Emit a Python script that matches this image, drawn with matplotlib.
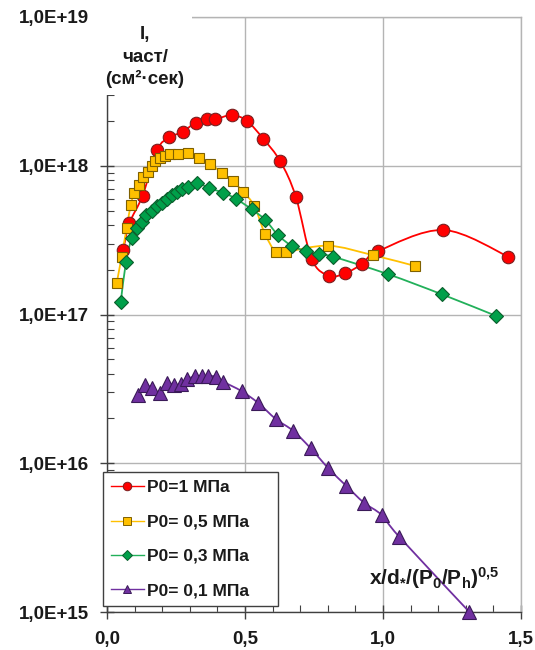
import numpy as np
import matplotlib
matplotlib.use("Agg")
import matplotlib.pyplot as plt
from matplotlib.path import Path
from matplotlib.patches import PathPatch, Rectangle
from matplotlib.lines import Line2D
from matplotlib.ticker import FixedLocator, LogLocator, NullFormatter

plt.rcParams['font.family'] = ['Liberation Sans', 'DejaVu Sans']
plt.rcParams['font.weight'] = 'bold'

# ---------------- data ----------------
x_p1 = [0.059, 0.081, 0.129, 0.182, 0.226, 0.274, 0.321, 0.364, 0.391, 0.453, 0.507,
        0.566, 0.628, 0.684, 0.742, 0.806, 0.862, 0.925, 0.983, 1.219, 1.454]
y_p1 = [2.72e17, 4.1e17, 6.3e17, 1.28e18, 1.55e18, 1.69e18, 1.95e18, 2.05e18, 2.05e18,
        2.19e18, 2.0e18, 1.52e18, 1.07e18, 6.2e17, 2.35e17, 1.82e17, 1.89e17, 2.19e17,
        2.67e17, 3.7e17, 2.45e17]

x_p05 = [0.035, 0.053, 0.071, 0.086, 0.099, 0.117, 0.132, 0.147, 0.162, 0.174, 0.192,
         0.210, 0.228, 0.258, 0.295, 0.333, 0.373, 0.416, 0.455, 0.492, 0.533, 0.572,
         0.611, 0.649, 0.802, 0.962, 1.116]
y_p05 = [1.62e17, 2.45e17, 3.8e17, 5.45e17, 6.6e17, 7.4e17, 8.4e17, 9.1e17, 9.9e17,
         1.08e18, 1.12e18, 1.16e18, 1.2e18, 1.2e18, 1.21e18, 1.13e18, 1.03e18, 8.98e17,
         7.94e17, 6.7e17, 5.4e17, 3.5e17, 2.64e17, 2.64e17, 2.9e17, 2.51e17, 2.12e17]

x_p03 = [0.050, 0.069, 0.089, 0.107, 0.125, 0.143, 0.162, 0.180, 0.198, 0.216, 0.234,
         0.252, 0.270, 0.295, 0.325, 0.371, 0.421, 0.467, 0.524, 0.572, 0.621, 0.669,
         0.720, 0.769, 0.818, 1.017, 1.212, 1.409]
y_p03 = [1.22e17, 2.27e17, 3.25e17, 3.8e17, 4.2e17, 4.7e17, 5.0e17, 5.35e17, 5.65e17,
         6.0e17, 6.4e17, 6.7e17, 6.95e17, 7.2e17, 7.7e17, 7.05e17, 6.6e17, 6.0e17,
         5.1e17, 4.35e17, 3.4e17, 2.9e17, 2.67e17, 2.54e17, 2.45e17, 1.87e17, 1.37e17,
         9.8e16]

x_p01 = [0.114, 0.138, 0.162, 0.192, 0.216, 0.243, 0.267, 0.291, 0.319, 0.343, 0.367,
         0.395, 0.422, 0.488, 0.548, 0.612, 0.675, 0.738, 0.802, 0.866, 0.931, 0.995,
         1.059, 1.313]
y_p01 = [2.88e16, 3.36e16, 3.2e16, 2.98e16, 3.47e16, 3.36e16, 3.4e16, 3.67e16, 3.86e16,
         3.86e16, 3.86e16, 3.82e16, 3.53e16, 3.05e16, 2.54e16, 1.98e16, 1.65e16, 1.26e16,
         9.25e15, 7.07e15, 5.43e15, 4.49e15, 3.2e15, 1.0e15]

labels = ['P0=1 МПа', 'P0= 0,5 МПа', 'P0= 0,3 МПа', 'P0= 0,1 МПа']
x_ticks = [0.0, 0.5, 1.0, 1.5]
x_ticklabels = ['0,0', '0,5', '1,0', '1,5']
y_ticks = [1e15, 1e16, 1e17, 1e18, 1e19]
y_ticklabels = ['1,0E+15', '1,0E+16', '1,0E+17', '1,0E+18', '1,0E+19']

series = [
    (x_p1, y_p1, dict(line='#ff0000', fc='#ff0000', ec='#7a2020', marker='o', ms=9.0)),
    (x_p05, y_p05, dict(line='#ffc000', fc='#ffc000', ec='#7f6000', marker='s', ms=7.9)),
    (x_p03, y_p03, dict(line='#22b05a', fc='#00a04a', ec='#0b5e2c', marker='D', ms=7.2)),
    (x_p01, y_p01, dict(line='#7030a0', fc='#7030a0', ec='#3a1a58', marker='^', ms=9.5)),
]


def smooth_path(x, y):
    """Excel-like smoothed line through the data points (Bezier in x / log10(y) space)."""
    lx = np.asarray(x, float)
    ly = np.log10(np.asarray(y, float))
    n = len(lx)
    verts = [(lx[0], ly[0])]
    codes = [Path.MOVETO]
    for i in range(n - 1):
        a = i - 1 if i > 0 else i
        d = i + 2 if i + 2 < n else i + 1
        c1 = (lx[i] + (lx[i + 1] - lx[a]) / 6, ly[i] + (ly[i + 1] - ly[a]) / 6)
        c2 = (lx[i + 1] - (lx[d] - lx[i]) / 6, ly[i + 1] - (ly[d] - ly[i]) / 6)
        verts += [c1, c2, (lx[i + 1], ly[i + 1])]
        codes += [Path.CURVE4] * 3
    v = np.array(verts)
    v[:, 1] = 10 ** v[:, 1]
    return Path(v, codes)


W, H = 535, 650
fig = plt.figure(figsize=(W / 100, H / 100), dpi=100)
L, R, T, B = 107, 521, 17, 612
ax = fig.add_axes([L / W, (H - B) / H, (R - L) / W, (B - T) / H])
ax.set_yscale('log')
ax.set_xlim(0, 1.5)
ax.set_ylim(1e15, 1e19)

ax.grid(True, which='major', color='#b4b4b4', lw=1.0, zorder=0)
ax.set_axisbelow(True)

handles = []
for xs, ys, st in series:
    ax.add_patch(PathPatch(smooth_path(xs, ys), fill=False, ec=st['line'], lw=1.3, zorder=3,
                           clip_on=False))
    ax.plot(xs, ys, ls='none', marker=st['marker'], ms=st['ms'], mfc=st['fc'],
            mec=st['ec'], mew=0.8, zorder=4, clip_on=False)
    handles.append(Line2D([], [], color=st['line'], lw=1.0, marker=st['marker'],
                          ms=st['ms'] * 0.68, mfc=st['fc'], mec=st['ec'], mew=0.7))

# spines
for s in ['top', 'right']:
    ax.spines[s].set_color('#b4b4b4')
    ax.spines[s].set_linewidth(1.0)
for s in ['left', 'bottom']:
    ax.spines[s].set_color('#404040')
    ax.spines[s].set_linewidth(1.0)

# ticks
ax.set_xticks(x_ticks)
ax.set_xticklabels(x_ticklabels)
ax.xaxis.set_minor_locator(FixedLocator(np.arange(0.1, 1.5, 0.1)))
ax.set_yticks(y_ticks)
ax.set_yticklabels(y_ticklabels)
ax.yaxis.set_minor_locator(LogLocator(base=10, subs=np.arange(2, 10)))
ax.yaxis.set_minor_formatter(NullFormatter())
ax.tick_params(which='major', direction='inout', length=10, width=1.0, color='#404040',
               labelsize=13.5, labelcolor='#1a1a1a', top=False, right=False)
ax.tick_params(which='minor', direction='in', length=5, width=0.8, color='#404040',
               top=False, right=False)
ax.tick_params(axis='x', which='major', pad=9)
ax.tick_params(axis='y', which='major', pad=8)
for lab in ax.get_xticklabels() + ax.get_yticklabels():
    lab.set_fontweight('bold')

# white box behind the y-axis title (covers the spine top, as in the reference)
ax.add_patch(Rectangle((-0.035, (B - 95) / (B - T)), (192 - L) / (R - L) + 0.035, 0.2,
                       transform=ax.transAxes, fc='white', ec='none', zorder=6,
                       clip_on=False))

# y-axis title
for txt, yy in [('I,', 34), ('част/', 57), ('(см²·сек)', 79)]:
    fig.text(145 / W, 1 - yy / H, txt, ha='center', va='center', fontsize=13.5,
             fontweight='bold', color='#1a1a1a', zorder=7)

# x-axis title
fig.text(369 / W, 1 - 578 / H, r'$\mathregular{x/d_{*}/(P_0/P_h)^{0{,}5}}$', ha='left',
         va='center', fontsize=15, fontweight='bold', color='#1a1a1a')

leg_x0 = (103 - L) / (R - L)
leg_y0 = (B - 606) / (B - T)
leg_w = (278 - 103) / (R - L)
leg_h = (606 - 471) / (B - T)
leg = ax.legend(handles, labels, loc='lower left', mode='expand',
                bbox_to_anchor=(leg_x0, leg_y0, leg_w, leg_h),
                borderaxespad=0, frameon=True, fancybox=False, edgecolor='#404040',
                framealpha=1, fontsize=12.5, handlelength=1.9, handletextpad=0.2,
                labelspacing=1.1, borderpad=0.45)
leg.get_frame().set_linewidth(1.0)
for t in leg.get_texts():
    t.set_fontweight('bold')
    t.set_color('#1a1a1a')
leg.set_zorder(8)

fig.savefig('out.png', dpi=100)
